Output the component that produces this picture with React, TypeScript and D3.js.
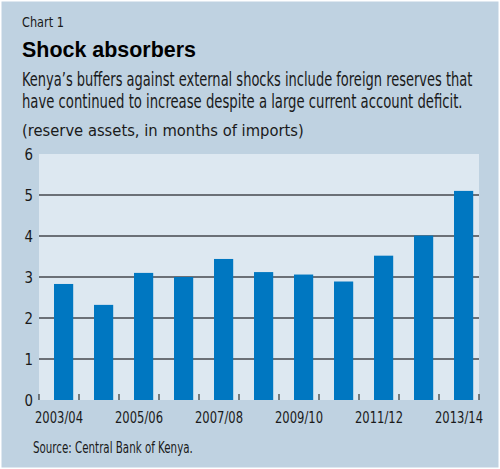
import React, { useEffect, useLayoutEffect, useRef, useState } from 'react';
import * as d3 from 'd3';

const years = [
  '2003/04', '2004/05', '2005/06', '2006/07', '2007/08', '2008/09',
  '2009/10', '2010/11', '2011/12', '2012/13', '2013/14',
];
const reserves = [2.83, 2.32, 3.1, 3.0, 3.44, 3.12, 3.06, 2.89, 3.52, 4.01, 5.1];
const yTicks = [0, 1, 2, 3, 4, 5, 6];
const xLabels = ['2003/04', '2005/06', '2007/08', '2009/10', '2011/12', '2013/14'];

const width = 500;
const height = 469;
const margin = { top: 154, right: 21, bottom: 69, left: 39 };
const innerWidth = width - margin.left - margin.right;
const innerHeight = height - margin.top - margin.bottom;

const narrow = '"Liberation Sans Narrow", "DejaVu Sans Condensed", Roboto, "Liberation Sans", sans-serif';

// squeeze a text horizontally so it spans the given width (condensed look)
const FitText: React.FC<{
  x: number; y: number; w: number; size: number; anchor?: string;
  weight?: string; family?: string; children: string;
}> = ({ x, y, w, size, anchor = 'start', weight = 'normal', family = narrow, children }) => {
  const ref = useRef<SVGTextElement>(null);
  const [s, setS] = useState(1);
  useLayoutEffect(() => {
    if (!ref.current) return;
    const len = ref.current.getComputedTextLength();
    if (len > 0) setS(w / len);
  }, [w, children]);
  return (
    <text ref={ref} transform={`translate(${x},${y}) scale(${s},1)`} fontSize={size}
      fontWeight={weight} fontFamily={family} textAnchor={anchor}>{children}</text>
  );
};

export default function App() {
  useEffect(() => {
    document.body.style.margin = '0';
  }, []);

  const x = d3.scaleBand<string>().domain(years).range([0, innerWidth]).padding(0);
  const y = d3.scaleLinear().domain([0, 6]).range([innerHeight, 0]);
  const bw = x.bandwidth();

  return (
    <svg width={width} height={height} style={{ display: 'block', background: '#fff' }}>
      <rect x={1.5} y={1.5} width={width - 3} height={height - 3} fill="#bfd2e1" />

      <g fill="#1a1a1a">
        <FitText x={22} y={27} w={42} size={14.5}>Chart 1</FitText>
        <g fill="#000">
          <FitText x={22} y={57} w={174} size={22} weight="bold" family='"Liberation Sans", Arial, sans-serif'>
            Shock absorbers
          </FitText>
        </g>
        <FitText x={22} y={86} w={451} size={19}>
          Kenya’s buffers against external shocks include foreign reserves that
        </FitText>
        <FitText x={22} y={108} w={441} size={19}>
          have continued to increase despite a large current account deficit.
        </FitText>
        <FitText x={22} y={136} w={282} size={15.5}>(reserve assets, in months of imports)</FitText>
        <FitText x={33} y={453} w={160} size={15}>Source: Central Bank of Kenya.</FitText>
      </g>

      <g transform={`translate(${margin.left},${margin.top})`}>
        <rect width={innerWidth} height={innerHeight} fill="#dde8f1" />

        {yTicks.filter(t => t > 0 && t < 6).map(t => (
          <line key={t} x1={0} x2={innerWidth} y1={y(t)} y2={y(t)} stroke="#45494e" strokeWidth={1.5} />
        ))}

        {years.map((yr, i) => (
          <rect key={yr} x={(x(yr) ?? 0) + bw * 0.375} width={bw * 0.48}
            y={y(reserves[i])} height={innerHeight - y(reserves[i])} fill="#0077c1" />
        ))}

        {[...years.map(yr => x(yr) ?? 0), innerWidth].map((px, i) => (
          <line key={i} x1={px} x2={px} y1={innerHeight - 6} y2={innerHeight} stroke="#333" strokeWidth={1.2} />
        ))}

        <g fill="#1a1a1a">
          {yTicks.map(t => (
            <FitText key={t} x={-6} y={y(t) + 5.5} w={8.5} size={16} anchor="end">{String(t)}</FitText>
          ))}
          {xLabels.map(l => (
            <FitText key={l} x={(x(l) ?? 0) + bw / 2} y={innerHeight + 23} w={48} size={15.5} anchor="middle">
              {l}
            </FitText>
          ))}
        </g>
      </g>
    </svg>
  );
}
